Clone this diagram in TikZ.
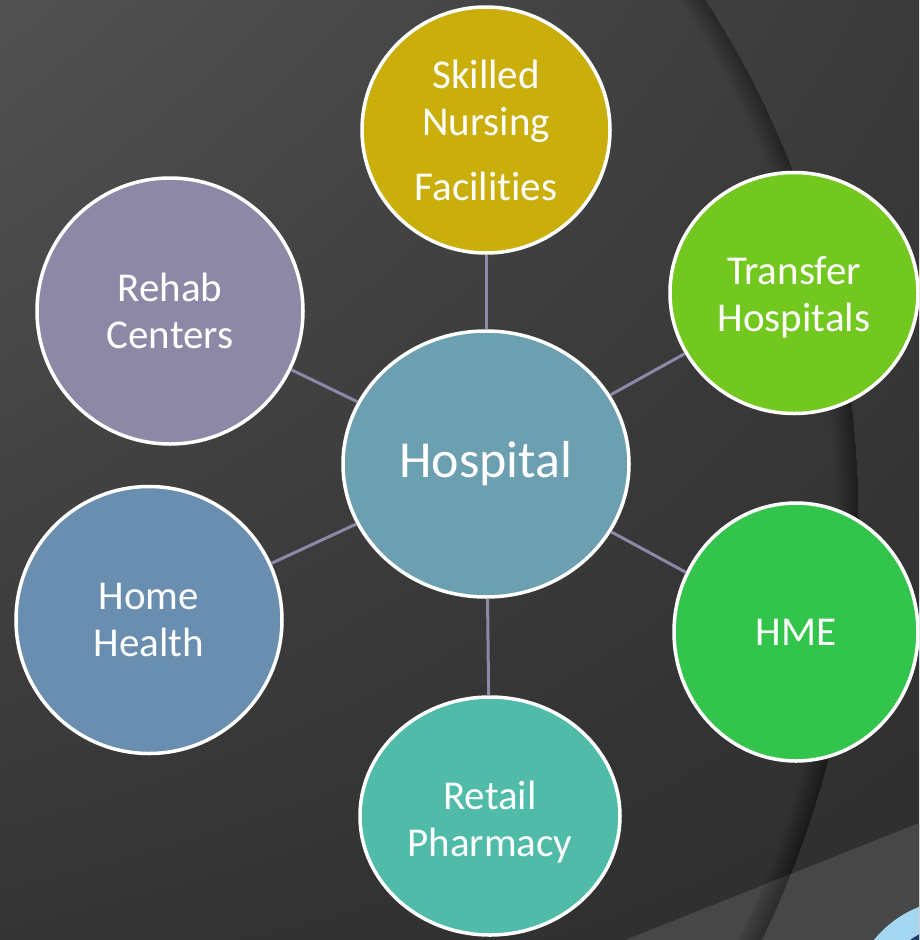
\documentclass[tikz,border=0pt]{standalone}
\usepackage{fontspec}
\setmainfont[Ligatures=NoCommon]{Carlito}
\usetikzlibrary{shapes.geometric,shadings}

\definecolor{bgA}{HTML}{525252}
\definecolor{bgB}{HTML}{3A3A3A}
\definecolor{bgC}{HTML}{343434}
\definecolor{bgD}{HTML}{2E2E2E}
\definecolor{bandc}{HTML}{474747}
\definecolor{linkc}{HTML}{8C88AA}
\definecolor{hospc}{HTML}{6C9FB0}
\definecolor{snfc}{HTML}{CAAE0C}
\definecolor{transc}{HTML}{72C81F}
\definecolor{hmec}{HTML}{33C44C}
\definecolor{pharmc}{HTML}{4FBBA8}
\definecolor{homec}{HTML}{6A8EAF}
\definecolor{rehabc}{HTML}{8D88A5}
\definecolor{skyc}{HTML}{A5D7F1}
\definecolor{navyc}{HTML}{1E3C6C}

\tikzset{
  bubble/.style={ellipse, draw=white, line width=3.5pt, text=white,
    inner sep=0pt, align=center, font=\fontsize{41}{47}\selectfont},
  link/.style={draw=linkc, line width=3pt}
}

\begin{document}
\begin{tikzpicture}[x=1pt,y=-1pt]
\useasboundingbox (0,0) rectangle (919,940);
\clip (0,0) rectangle (919,940);

% background gradient
\shade[upper left=bgA, upper right=bgB, lower left=bgC, lower right=bgD]
  (0,0) rectangle (919,940);

% lighter diagonal band in the lower right corner
\fill[bandc] (600,950) -- (919,823) -- (919,950) -- cycle;

% soft shadow along the inside of the large arc
\begin{scope}
  \clip (-102,520) circle[radius=960pt];
  \foreach \w in {2,4,...,44}
    \draw[black, opacity=0.014, line width=\w pt] (-102,520) circle[radius=960pt];
\end{scope}

% corner ornament
\fill[skyc] (960,1010) circle[radius=111pt];
\fill[navyc] (960,1010) circle[radius=86pt];

% nodes
\node[bubble, fill=hospc, minimum width=286pt, minimum height=266pt,
      font=\fontsize{52}{60}\selectfont] (hosp) at (486,464) {Hospital};
\node[bubble, fill=snfc, minimum width=248pt, minimum height=246pt]
  (snf) at (486,130) {Skilled\\Nursing\\[18pt]Facilities};
\node[bubble, fill=transc, minimum width=248pt, minimum height=241pt]
  (trans) at (794,293) {\rule{0pt}{37pt}Transfer\\Hospitals};
\node[bubble, fill=hmec, minimum width=244pt, minimum height=258pt]
  (hme) at (796,632) {HME};
\node[bubble, fill=pharmc, minimum width=260pt, minimum height=238pt]
  (pharm) at (490,816) {\rule{0pt}{40pt}Retail\\Pharmacy};
\node[bubble, fill=homec, minimum width=266pt, minimum height=267pt]
  (home) at (149,620) {Home\\Health};
\node[bubble, fill=rehabc, minimum width=266pt, minimum height=266pt]
  (rehab) at (170,311) {Rehab\\Centers};

% connectors
\draw[link] (hosp) -- (snf);
\draw[link] (hosp) -- (trans);
\draw[link] (hosp) -- (hme);
\draw[link] (hosp) -- (pharm);
\draw[link] (hosp) -- (home);
\draw[link] (hosp) -- (rehab);
\end{tikzpicture}
\end{document}
